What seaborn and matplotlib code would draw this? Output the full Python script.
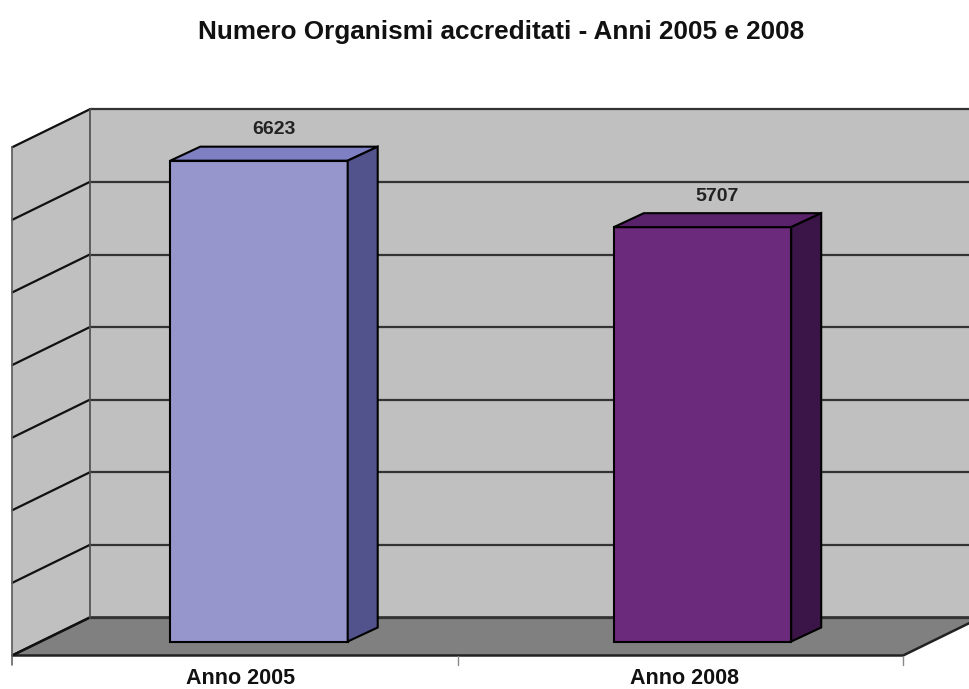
import numpy as np
import matplotlib
matplotlib.use("Agg")
import matplotlib.pyplot as plt
import seaborn as sns

# dati del grafico
categories = ["Anno 2005", "Anno 2008"]
values = [6623, 5707]
grid_ticks = [0, 1000, 2000, 3000, 4000, 5000, 6000, 7000]
title = "Numero Organismi accreditati - Anni 2005 e 2008"

front_colors = ["#9696CC", "#6B2A7B"]
top_colors = ["#7F7FC4", "#5A226A"]
side_colors = ["#52528C", "#3B1547"]

sns.set_style("white")
plt.rcParams["font.family"] = ["Liberation Sans", "DejaVu Sans"]

# scala: pixel per unita' categoria / per unita' di valore
PX_X = 443.5
PX_Y = 0.0726


def depth(px_dx, px_dy):
    """converte uno spostamento in pixel (prospettiva) in unita' dati"""
    return px_dx / PX_X, px_dy / PX_Y


bar_dx, bar_dy = depth(30, 14)
wall_dx, wall_dy = depth(49, 24)
floor_dx, floor_dy = depth(-28.7, -14)
XL, XR = -0.492, 1.517
YMAX = grid_ticks[-1]

fig = plt.figure(figsize=(9.69, 6.89), dpi=100)
ax = fig.add_axes([0, 0, 1, 1])

wall_col = "#C0C0C0"
floor_col = "#808080"
ec = "#222222"

# parete di fondo
ax.fill([XL + wall_dx, XR + wall_dx, XR + wall_dx, XL + wall_dx],
        [wall_dy, wall_dy, wall_dy + YMAX, wall_dy + YMAX],
        color=wall_col, zorder=0)
# parete sinistra
ax.fill([XL + floor_dx, XL + floor_dx, XL + wall_dx, XL + wall_dx],
        [floor_dy, floor_dy + YMAX, wall_dy + YMAX, wall_dy],
        facecolor=wall_col, edgecolor="#777777", lw=1, zorder=0)
# pavimento
ax.fill([XL + floor_dx, XR + floor_dx, XR + wall_dx, XL + wall_dx],
        [floor_dy, floor_dy, wall_dy, wall_dy],
        facecolor=floor_col, edgecolor=ec, lw=1.8, zorder=0.2)

# griglia
for v in grid_ticks:
    ax.plot([XL + wall_dx, XR + wall_dx], [wall_dy + v, wall_dy + v],
            color="#333333", lw=1.6, zorder=0.5)
    ax.plot([XL + floor_dx, XL + wall_dx], [floor_dy + v, wall_dy + v],
            color="#111111", lw=1.6, zorder=0.5)
ax.plot([XL + wall_dx, XL + wall_dx], [wall_dy, wall_dy + YMAX],
        color="#555555", lw=1.2, zorder=0.5)

# bordo anteriore e tacche
tick_len = 9 / PX_Y
ax.plot([XL + floor_dx, XL + floor_dx], [floor_dy - tick_len, floor_dy + YMAX],
        color="#666666", lw=1.2, zorder=0.6)
for t in [(XL + XR) / 2, XR]:
    ax.plot([t + floor_dx, t + floor_dx], [floor_dy - tick_len, floor_dy],
            color="#888888", lw=1, zorder=0.6)

# barre (faccia frontale)
sns.barplot(x=categories, y=values, hue=categories, palette=front_colors,
            width=0.4, edgecolor="black", linewidth=1.5, saturation=1,
            legend=False, ax=ax)

bars = [b for cont in ax.containers for b in cont]
bars.sort(key=lambda b: b.get_x())
for i, p in enumerate(bars):
    p.set_zorder(3)
    x0, w, h = p.get_x(), p.get_width(), p.get_height()
    ax.fill([x0, x0 + w, x0 + w + bar_dx, x0 + bar_dx],
            [h, h, h + bar_dy, h + bar_dy],
            facecolor=top_colors[i], edgecolor="black", lw=1.5, zorder=3)
    ax.fill([x0 + w, x0 + w + bar_dx, x0 + w + bar_dx, x0 + w],
            [0, bar_dy, h + bar_dy, h],
            facecolor=side_colors[i], edgecolor="black", lw=1.5, zorder=3)
    ax.text(x0 + w / 2 + bar_dx / 2, h + bar_dy + 17 / PX_Y, f"{values[i]}",
            ha="center", va="center", fontsize=14, fontweight="bold",
            color="#222222", zorder=4)

# etichette categorie
for i, c in enumerate(categories):
    ax.text(i - 0.041, (641.5 - 678) / PX_Y, c, ha="center", va="center",
            fontsize=15.5, fontweight="bold", color="#111111")

ax.set_xlim(-259 / PX_X, (969 - 259) / PX_X)
ax.set_ylim((641.5 - 689) / PX_Y, 641.5 / PX_Y)
ax.axis("off")

fig.text(501 / 969, 1 - 32 / 689, title, ha="center", va="center",
         fontsize=18.8, fontweight="bold", color="#111111")

fig.savefig("out.png", dpi=100, facecolor="white")
